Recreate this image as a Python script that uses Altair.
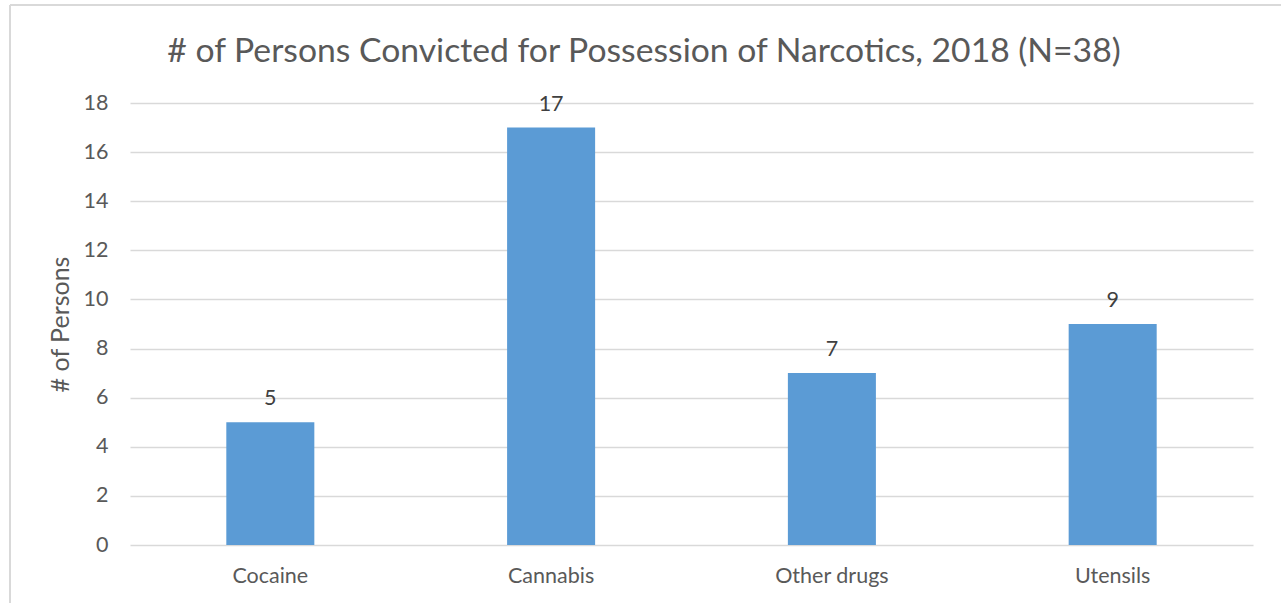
import altair as alt
import pandas as pd

categories = ["Cocaine", "Cannabis", "Other drugs", "Utensils"]
persons = [5, 17, 7, 9]
title_text = "# of Persons Convicted for Possession of Narcotics, 2018 (N=38)"

df = pd.DataFrame({"category": categories, "persons": persons})

FONT = "Lato"
GREY = "#595959"

x_enc = alt.X(
    "category:N",
    sort=categories,
    scale=alt.Scale(paddingInner=0.6865, paddingOuter=0.343),
    axis=alt.Axis(
        title=None, labelAngle=0, labelFontSize=21.5, labelColor=GREY,
        labelFont=FONT, ticks=False, domain=False, labelPadding=20,
    ),
)
y_enc = alt.Y(
    "persons:Q",
    scale=alt.Scale(domain=[0, 18]),
    axis=alt.Axis(
        title="# of Persons", titleFontSize=25, titleFont=FONT, titleColor=GREY,
        titleFontWeight="normal", titlePadding=10,
        values=list(range(0, 19, 2)), labelFontSize=21.5, labelColor=GREY,
        labelFont=FONT, ticks=False, domain=False, labelPadding=22,
        grid=True, gridColor="#d9d9d9", gridWidth=1.3,
    ),
)

bars = alt.Chart(df).mark_bar(color="#5b9bd5").encode(x=x_enc, y=y_enc)
labels = alt.Chart(df).mark_text(
    baseline="bottom", dy=-12, fontSize=21.5, font=FONT, color="#404040"
).encode(x=alt.X("category:N", sort=categories), y="persons:Q", text="persons:Q")

frame_left = alt.Chart(df).mark_rule(color="#d9d9d9", strokeWidth=2).encode(
    x=alt.value(-120), y=alt.value(-98), y2=alt.value(500)
)
frame_top = alt.Chart(df).mark_rule(color="#d9d9d9", strokeWidth=2).encode(
    x=alt.value(-120), x2=alt.value(1200), y=alt.value(-98)
)
title = alt.Chart(pd.DataFrame({"t": [title_text]})).mark_text(
    fontSize=33.7, font=FONT, color=GREY, align="center", baseline="alphabetic"
).encode(x=alt.value(514), y=alt.value(-41), text="t:N")

chart = (
    alt.layer(bars, labels, frame_left, frame_top, title)
    .properties(
        width=1123,
        height=442,
        autosize=alt.AutoSizeParams(type="none"),
        padding={"left": 130, "top": 103, "right": 28, "bottom": 58},
        background="white",
    )
    .configure_view(stroke=None, strokeWidth=0)
)

chart.save("out.html", embed_options={"renderer": "svg", "actions": False})
